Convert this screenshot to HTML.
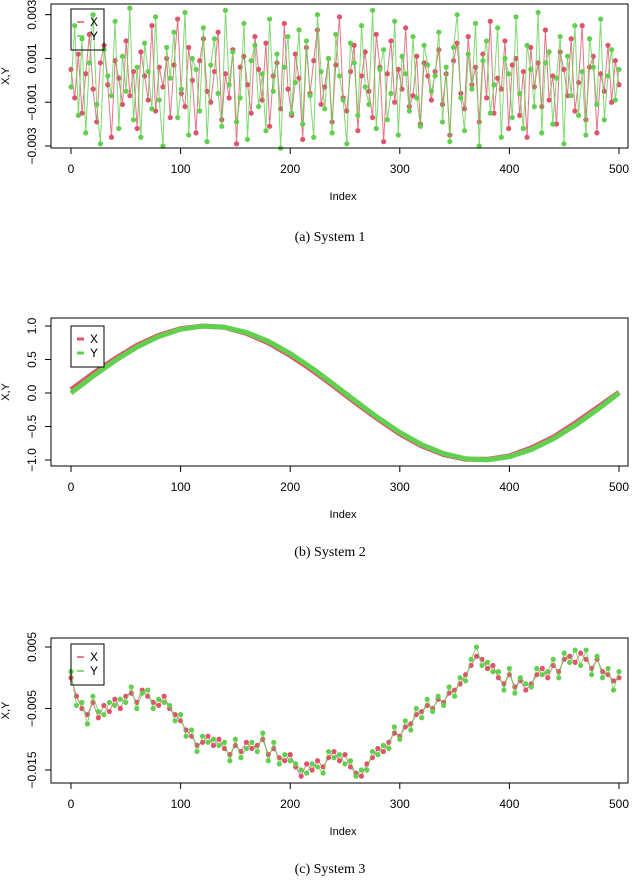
<!DOCTYPE html>
<html><head><meta charset="utf-8"><style>
body{margin:0;background:#fff;width:640px;height:879px;overflow:hidden}
svg text{font-family:"Liberation Sans",sans-serif}
.cap{font-family:"Liberation Serif",serif}
</style></head><body>
<svg id="fig" width="640" height="879" xmlns="http://www.w3.org/2000/svg"></svg>
<script>
// Panel 1 (units of 0.001), evenly spaced across index 0..500
const p1X=[0.5,-0.8,1.2,-1.5,0.3,2.1,-0.4,-1.9,0.8,1.6,-0.2,-2.6,0.9,0.1,-1.1,1.8,-0.7,0.4,-2.2,1.3,0.2,-0.9,2.5,-1.4,0.6,-0.3,1.0,-1.7,0.7,2.8,-0.6,-1.2,1.5,0.0,-2.4,0.9,1.9,-0.5,-1.0,0.4,2.2,-1.8,0.3,-0.8,1.4,-2.9,0.6,1.1,-0.2,-1.5,2.0,0.5,-0.9,1.7,-2.1,0.2,0.8,-1.3,2.6,-0.4,-1.6,1.2,0.1,-2.7,1.5,-0.6,0.9,2.3,-1.1,-0.3,1.0,-1.9,0.7,2.9,-0.8,-1.4,0.4,1.6,-2.3,0.2,1.3,-0.5,-1.7,2.1,0.6,-2.8,0.3,1.8,-1.0,0.5,-0.4,2.4,-1.2,-0.7,1.1,-2.0,0.8,0.2,-0.9,0.4,
1.4,-1.1,0.3,-2.5,0.9,1.7,-0.6,-1.3,2.0,-0.2,0.6,-1.9,1.2,-0.8,2.7,-1.5,0.1,-0.4,1.8,-2.2,0.7,1.0,-1.6,0.4,-2.6,1.5,-0.3,0.8,-1.2,2.3,-0.9,0.2,-2.0,1.3,0.5,-0.7,1.9,-1.4,-0.1,2.5,-1.8,0.6,1.1,-2.4,0.3,-0.5,1.6,-1.0,0.9,-0.2];
const p1Y=[-0.3,2.5,-1.6,1.9,-2.4,0.8,3.0,-1.1,-2.9,1.4,0.2,-0.7,2.7,-2.2,1.1,-0.5,3.3,-1.8,0.6,-2.6,1.7,0.4,-1.3,2.9,-0.9,-3.0,1.5,0.1,2.2,-1.7,-0.4,3.1,-2.5,1.0,0.5,-1.4,2.4,-2.8,0.7,1.9,-0.6,-2.1,3.2,-0.2,1.3,-1.9,-0.8,2.6,-2.7,0.9,1.6,-1.2,0.3,-2.3,2.8,-0.5,1.2,-3.1,0.6,2.0,-1.5,-0.1,2.3,-2.0,1.8,-0.7,-2.6,3.0,0.4,-1.3,1.0,-2.4,2.1,0.2,-0.9,-2.9,1.7,0.8,-1.6,2.5,-0.3,-1.1,3.2,-2.2,0.5,1.4,-1.8,-0.6,2.7,-2.5,1.1,0.3,-1.4,2.0,-0.8,-2.1,1.6,0.7,-0.5,0.2,
2.2,-1.9,0.6,-2.8,1.5,3.0,-0.8,-2.3,1.2,-0.4,2.6,-3.0,0.9,1.8,-1.5,-0.2,2.4,-2.6,1.0,0.3,-1.7,2.9,-0.6,-2.2,1.6,0.5,-1.2,3.1,-2.4,0.8,1.3,-2.0,0.1,2.0,-2.9,1.1,-0.7,2.5,-1.6,0.4,-2.5,1.9,0.6,-1.1,2.8,-1.8,0.2,1.4,-0.9,0.5];
// Panel 2 sampled every 20 index
const p2X=[0.05,0.29,0.51,0.71,0.86,0.96,1.0,0.98,0.89,0.75,0.56,0.34,0.10,-0.15,-0.39,-0.61,-0.79,-0.92,-0.99,-0.99,-0.94,-0.82,-0.66,-0.45,-0.22,0.01];
const p2Y=[0.0,0.25,0.48,0.685,0.844,0.951,0.998,0.982,0.905,0.771,0.588,0.368,0.125,-0.125,-0.368,-0.588,-0.771,-0.905,-0.982,-0.998,-0.951,-0.844,-0.685,-0.482,-0.249,0.0];
// Panel 3 (units of 0.01) sampled every 5 index
const p3X=[0.0,-0.3,-0.5,-0.6,-0.4,-0.65,-0.45,-0.55,-0.35,-0.5,-0.3,-0.25,-0.4,-0.2,-0.3,-0.4,-0.45,-0.3,-0.5,-0.6,-0.7,-0.85,-0.95,-1.1,-1.05,-0.95,-1.1,-1.0,-1.15,-1.25,-1.1,-1.2,-1.05,-1.15,-1.1,-1.0,-1.25,-1.15,-1.3,-1.35,-1.25,-1.45,-1.6,-1.4,-1.5,-1.35,-1.45,-1.3,-1.2,-1.35,-1.25,-1.45,-1.55,-1.6,-1.4,-1.3,-1.15,-1.2,-1.05,-0.9,-0.95,-0.8,-0.75,-0.6,-0.55,-0.45,-0.5,-0.35,-0.4,-0.25,-0.2,-0.1,0.05,0.2,0.35,0.3,0.15,0.2,0.0,-0.1,0.05,-0.15,-0.05,-0.2,-0.1,0.05,0.15,0.0,0.2,0.1,0.3,0.35,0.25,0.4,0.3,0.15,0.3,0.1,0.05,-0.05,0.0];
const p3Y=[0.1,-0.45,-0.4,-0.75,-0.3,-0.55,-0.6,-0.4,-0.45,-0.35,-0.4,-0.15,-0.5,-0.25,-0.2,-0.5,-0.35,-0.4,-0.45,-0.7,-0.6,-0.95,-0.85,-1.2,-0.95,-1.05,-1.0,-1.1,-1.05,-1.35,-1.0,-1.3,-1.15,-1.05,-1.2,-0.9,-1.35,-1.05,-1.4,-1.25,-1.35,-1.4,-1.5,-1.55,-1.4,-1.45,-1.55,-1.2,-1.3,-1.25,-1.4,-1.35,-1.6,-1.5,-1.5,-1.2,-1.25,-1.1,-1.15,-0.8,-1.0,-0.7,-0.85,-0.5,-0.65,-0.35,-0.55,-0.3,-0.45,-0.15,-0.3,0.0,-0.05,0.3,0.5,0.2,0.25,0.1,0.1,-0.2,0.15,-0.25,0.0,-0.1,-0.15,0.15,0.05,0.1,0.3,0.0,0.4,0.25,0.45,0.2,0.45,0.05,0.35,0.0,0.15,-0.2,0.1];
const xTicks=[0,100,200,300,400,500];
const t1=[0.003,0.001,-0.001,-0.003], t1L=["0.003","0.001","−0.001","−0.003"];
const t2=[1.0,0.5,0.0,-0.5,-1.0], t2L=["1.0","0.5","0.0","−0.5","−1.0"];
const t3=[0.005,-0.005,-0.015], t3L=["0.005","−0.005","−0.015"];

const NS="http://www.w3.org/2000/svg", svg=document.getElementById('fig');
function mk(tag,attrs,parent){const e=document.createElementNS(NS,tag);for(const k in attrs)e.setAttribute(k,attrs[k]);(parent||svg).appendChild(e);return e;}
const xs=i=>71+i*1.096;
const RED="#DF536B", GRN="#61D04F";

function panel(o){
  const g=mk('g',{});
  
  
  const ys=v=>o.y0+(v-o.v0)*(o.y1-o.y0)/(o.v1-o.v0);
  const box=mk('rect',{x:51,y:o.top,width:577,height:o.bot-o.top,fill:'none',stroke:'#000','stroke-width':1},g);
  
  const series=[[o.X,RED,'series-x'],[o.Y,GRN,'series-y']];
  series.forEach(([arr,col,nm])=>{
    const sg=mk('g',{},g);
    
    const step=500/(arr.length-1);
    const pts=arr.map((v,i)=>xs(i*step).toFixed(1)+','+ys(v*o.scale).toFixed(1)).join(' ');
    mk('polyline',{points:pts,fill:'none',stroke:col,'stroke-width':o.lw,'stroke-linejoin':'round','stroke-opacity':o.thick?1:0.8},sg);
    if(!o.thick) arr.forEach((v,i)=>{const c=mk('circle',{cx:xs(i*step),cy:ys(v*o.scale),r:2.6,fill:col},sg);
      });
  });
  const ax=mk('g',{},g);
  mk('line',{x1:xs(0),x2:xs(500),y1:o.bot,y2:o.bot,stroke:'#000'},ax);
  xTicks.forEach(t=>{mk('line',{x1:xs(t),x2:xs(t),y1:o.bot,y2:o.bot+6,stroke:'#000'},ax);
    const tx=mk('text',{x:xs(t),y:o.bot+25,'font-size':12,'text-anchor':'middle'},ax);tx.textContent=t;});
  const il=mk('text',{x:343,y:o.bot+52,'font-size':11,'text-anchor':'middle'},g);il.textContent='Index';
  
  const ay=mk('g',{},g);
  mk('line',{x1:51,x2:51,y1:ys(o.ticks[0]),y2:ys(o.ticks[o.ticks.length-1]),stroke:'#000'},ay);
  o.ticks.forEach((t,k)=>{const y=ys(t);mk('line',{x1:45,x2:51,y1:y,y2:y,stroke:'#000'},ay);
    const tx=mk('text',{x:36,y:y,'font-size':12,'text-anchor':'middle',transform:`rotate(-90 36 ${y})`},ay);tx.textContent=o.tl[k];});
  const yl=mk('text',{x:9,y:(o.top+o.bot)/2,'font-size':11,'text-anchor':'middle',transform:`rotate(-90 9 ${(o.top+o.bot)/2})`},g);yl.textContent='X,Y';
  
  const lg=mk('g',{},g);
  mk('rect',{x:71,y:o.lt,width:33,height:41,fill:'#fff','fill-opacity':o.thick?1:0,stroke:'#000'},lg);
  [[RED,'X',13],[GRN,'Y',27]].forEach(([c,t,dy])=>{mk('line',{x1:77,x2:84,y1:o.lt+dy,y2:o.lt+dy,stroke:c,'stroke-width':o.thick?3:1.5},lg);
    const tx=mk('text',{x:90,y:o.lt+dy+4,'font-size':12},lg);tx.textContent=t;});
  const cp=mk('text',{x:330,y:o.cap,'font-size':14,'text-anchor':'middle','class':'cap'},g);cp.textContent=o.caption;
  
}
panel({name:'panel-system-1',top:4,bot:148,v0:0.003,y0:14.7,v1:-0.003,y1:146,X:p1X,Y:p1Y,scale:0.001,lw:1,ticks:t1,tl:t1L,lt:9,cap:241,caption:'(a) System 1'});
panel({name:'panel-system-2',top:318,bot:466,v0:1,y0:326,v1:-1,y1:460,X:p2X,Y:p2Y,scale:1,lw:5,thick:true,ticks:t2,tl:t2L,lt:326,cap:556,caption:'(b) System 2'});
panel({name:'panel-system-3',top:638,bot:783,v0:0.005,y0:647,v1:-0.015,y1:770,X:p3X,Y:p3Y,scale:0.01,lw:1,ticks:t3,tl:t3L,lt:644,cap:873,caption:'(c) System 3'});
</script>
</body></html>
